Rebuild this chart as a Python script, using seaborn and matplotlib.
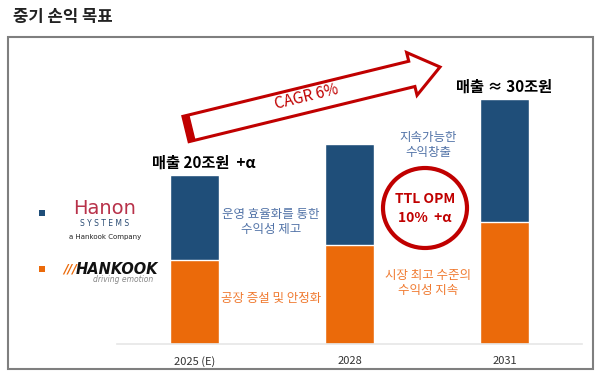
import matplotlib
matplotlib.use("Agg")
import matplotlib.pyplot as plt
import matplotlib.patches as mpatches
import numpy as np
import pandas as pd
import seaborn as sns

# data (조원)
years = ["2025 (E)", "2028", "2031"]
hankook = [9.9, 11.7, 14.4]      # orange part
hanon = [10.1, 12.0, 14.6]       # navy part
sales_labels = ["매출 20조원  +α", None, "매출 ≈ 30조원"]

NAVY = "#1F4E79"
ORANGE = "#EB6A0A"
RED = "#C00000"
TXT_BLUE = "#5374A8"
TXT_ORANGE = "#F07A30"

sns.set_style("white")
plt.rcParams["font.family"] = ["Noto Sans CJK KR", "DejaVu Sans"]

W, H = 600, 379
fig = plt.figure(figsize=(W / 100, H / 100), dpi=100)


def fx(px):
    return px / W


def fy(py):
    return 1 - py / H


ax = fig.add_axes([fx(117), fy(344), (582 - 117) / W, (344 - 40) / H])
df = pd.DataFrame({"year": years, "hankook": hankook, "hanon": hanon})
df["total"] = df["hankook"] + df["hanon"]

sns.barplot(data=df, x="year", y="total", color=NAVY, saturation=1, width=0.31, ax=ax)
sns.barplot(data=df, x="year", y="hankook", color=ORANGE, saturation=1, width=0.31, ax=ax)

ax.set_xlim(-0.5, 2.5)
ax.set_ylim(0, 36.0)
ax.set_xlabel("")
ax.set_ylabel("")
ax.set_yticks([])
for s in ["left", "right", "top"]:
    ax.spines[s].set_visible(False)
ax.spines["bottom"].set_color("#E6E6E6")
ax.spines["bottom"].set_linewidth(1.2)
ax.tick_params(axis="x", length=0, pad=9, labelsize=8, labelcolor="#333333")
ax.patch.set_alpha(0)

# sales labels above bars
for i, lab in enumerate(sales_labels):
    if lab:
        ax.text(i + 0.06 if i == 0 else i, df["total"][i] + 1.5, lab, ha="center", va="center",
                fontsize=11, fontweight="bold", color="black")

# title and frame
fig.text(fx(13), fy(17), "중기 손익 목표", ha="left", va="center", fontsize=12, fontweight="bold", color="#222222")
fig.patches.append(mpatches.Rectangle((fx(8), fy(369)), fx(593) - fx(8), fy(37) - fy(369),
                                      transform=fig.transFigure, fill=False, edgecolor="#7F7F7F", linewidth=1.5))

# CAGR arrow (pixel coords, y up)
T = np.array([186.0, H - 129.0])
P = np.array([440.0, H - 67.0])
u = (P - T) / np.linalg.norm(P - T)
n = np.array([-u[1], u[0]])
Hb = P - u * 29
pts = [T + n * 13, Hb + n * 13, Hb + n * 22, P, Hb - n * 22, Hb - n * 13, T - n * 13]
pts = [(p[0] / W, p[1] / H) for p in pts]
fig.patches.append(mpatches.Polygon(pts, closed=True, transform=fig.transFigure, facecolor="white",
                                    edgecolor=RED, linewidth=2.2, joinstyle="miter"))
tail = [T + n * 13, T + n * 13 + u * 6, T - n * 13 + u * 6, T - n * 13]
tail = [(p[0] / W, p[1] / H) for p in tail]
fig.patches.append(mpatches.Polygon(tail, closed=True, transform=fig.transFigure, facecolor=RED,
                                    edgecolor=RED, linewidth=1))
ang = np.degrees(np.arctan2(u[1], u[0]))
fig.text(fx(307), fy(97), "CAGR 6%", rotation=ang, rotation_mode="anchor", ha="center", va="center",
         fontsize=11, color=RED)

# OPM circle
fig.patches.append(mpatches.Ellipse((fx(425), fy(208)), 84 / W, 80 / H, transform=fig.transFigure,
                                    fill=False, edgecolor=RED, linewidth=3))
fig.text(fx(425), fy(199), "TTL OPM", ha="center", va="center", fontsize=10, fontweight="bold", color=RED)
fig.text(fx(425), fy(218), "10%  +α", ha="center", va="center", fontsize=10, fontweight="bold", color=RED)

# annotations
fig.text(fx(271), fy(222), "운영 효율화를 통한\n수익성 제고", ha="center", va="center", fontsize=9,
         color=TXT_BLUE, linespacing=1.25)
fig.text(fx(271), fy(298), "공장 증설 및 안정화", ha="center", va="center", fontsize=9, color=TXT_ORANGE)
fig.text(fx(428), fy(145), "지속가능한\n수익창출", ha="center", va="center", fontsize=9,
         color=TXT_BLUE, linespacing=1.25)
fig.text(fx(428), fy(283), "시장 최고 수준의\n수익성 지속", ha="center", va="center", fontsize=9,
         color=TXT_ORANGE, linespacing=1.25)

# legend squares + logos (as text)
fig.patches.append(mpatches.Rectangle((fx(39), fy(216)), 6 / W, 6 / H, transform=fig.transFigure,
                                      facecolor=NAVY, edgecolor="none"))
fig.patches.append(mpatches.Rectangle((fx(39), fy(272)), 6 / W, 6 / H, transform=fig.transFigure,
                                      facecolor=ORANGE, edgecolor="none"))

fig.text(fx(105), fy(208), "Hanon", ha="center", va="center", fontsize=14, color="#B8324A",
         family=["DejaVu Sans"])
fig.text(fx(105), fy(224), "S Y S T E M S", ha="center", va="center", fontsize=5.5, color="#2B4C74",
         family=["DejaVu Sans"])
fig.text(fx(105), fy(237), "a Hankook Company", ha="center", va="center", fontsize=5, color="#222222",
         family=["DejaVu Sans"])
fig.text(fx(70), fy(269), "///", ha="center", va="center", fontsize=9, color=ORANGE, fontweight="bold",
         style="italic", family=["DejaVu Sans"])
fig.text(fx(117), fy(269), "HANKOOK", ha="center", va="center", fontsize=10.5, color="#111111",
         fontweight="heavy", style="italic", family=["DejaVu Sans"])
fig.text(fx(123), fy(280), "driving emotion", ha="center", va="center", fontsize=5.5, color="#888888",
         style="italic", family=["DejaVu Sans"])

fig.savefig("out.png", dpi=100)
